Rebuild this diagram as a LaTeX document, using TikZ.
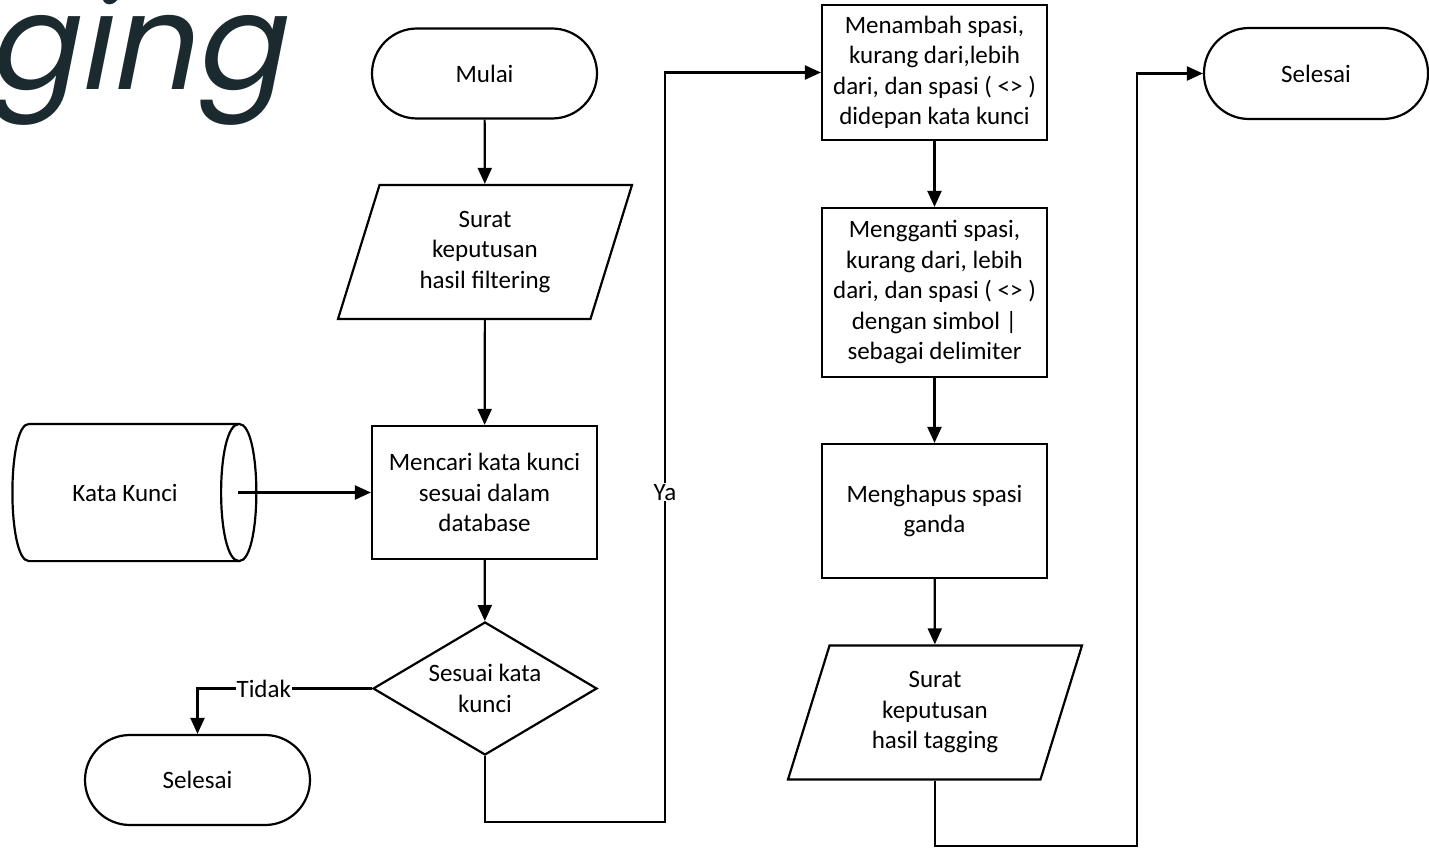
\documentclass[tikz,border=0pt]{standalone}
\usepackage{fontspec}
\setmainfont{Carlito}
\newfontfamily\gingfont[FakeSlant=0.2]{Poppins}
\usepackage{xcolor}
\usepackage{tikz}
\usetikzlibrary{positioning, shapes.geometric, arrows.meta, calc}
\definecolor{gingcolor}{HTML}{1B2A2F}

\begin{document}
\begin{tikzpicture}[x=1pt, y=-1pt, line width=2.2pt, font=\fontsize{25}{30.5}\selectfont]
% style: Terminal_style
\tikzstyle{Terminal_style}=[draw,rectangle,rounded corners=45pt,minimum width=225pt,minimum height=90pt,align=center]
% style: Process_style
\tikzstyle{Process_style}=[draw,rectangle,minimum width=225pt,align=center,inner sep=0pt]
% style: Data_style
\tikzstyle{Data_style}=[draw,trapezium,trapezium left angle=63,trapezium right angle=117,trapezium stretches body,minimum width=294pt,minimum height=134pt,inner sep=0pt,align=center]
% style: Decision_style
\tikzstyle{Decision_style}=[draw,diamond,aspect=1.69,minimum width=224pt,minimum height=133pt,inner sep=0pt,align=center]
% style: defaultEdge
\tikzstyle{defaultEdge}=[-{Triangle[length=16pt,width=14pt]}]
% style: defaultLabel
\tikzstyle{defaultLabel}=[fill=white,inner sep=1pt]

\clip (0, 0) rectangle (1429, 848);

% node: ging
\node[font=\gingfont\fontsize{133}{133}\selectfont, text=gingcolor, anchor=base west, inner sep=0pt] (ging) at (-15, 90) {ging};

% node group: filtering_group
% node: mulai
\node[Terminal_style] (mulai) at (484.5, 73.5) {Mulai};
% node: filtering
\node[Data_style] (filtering) at (485, 252) {Surat\\keputusan\\hasil filtering};
% node: cari
\node[Process_style, minimum height=133pt] (cari) at (484.5, 492.5) {Mencari kata kunci\\sesuai dalam\\database};
% node: kunci
\node[minimum width=224pt, minimum height=135pt, inner sep=0pt] (kunci) at (125, 492.5) {Kata Kunci};
\draw ([xshift=17pt]kunci.north west) -- ([xshift=1pt]kunci.north east)
  .. controls ([xshift=24pt]kunci.north east) and ([xshift=24pt]kunci.south east) .. ([xshift=1pt]kunci.south east)
  .. controls ([xshift=-23pt]kunci.south east) and ([xshift=-23pt]kunci.north east) .. ([xshift=1pt]kunci.north east);
\draw ([xshift=1pt]kunci.south east) -- ([xshift=17pt]kunci.south west)
  .. controls ([xshift=-5pt]kunci.south west) and ([xshift=-5pt]kunci.north west) .. ([xshift=17pt]kunci.north west);
% node: sesuai
\node[Decision_style] (sesuai) at (485, 688.5) {Sesuai kata\\kunci};
% node: selesai_1
\node[Terminal_style] (selesai_1) at (197.5, 780) {Selesai};
% end of node group: filtering_group

% node group: tagging_group
% node: tambah
\node[Process_style, minimum height=135pt] (tambah) at (934.5, 72.5) {Menambah spasi,\\kurang dari,lebih\\dari, dan spasi ( <> )\\didepan kata kunci};
% node: ganti
\node[Process_style, minimum height=169pt] (ganti) at (934.5, 292.5) {Mengganti spasi,\\kurang dari, lebih\\dari, dan spasi ( <> )\\dengan simbol |\\sebagai delimiter};
% node: hapus
\node[Process_style, minimum height=134pt] (hapus) at (934.5, 511) {Menghapus spasi\\ganda};
% node: tagging
\node[Data_style] (tagging) at (935, 712.5) {Surat\\keputusan\\hasil tagging};
% node: selesai_2
\node[Terminal_style, minimum width=224pt, minimum height=91pt] (selesai_2) at (1316, 73.5) {Selesai};
% end of node group: tagging_group

\coordinate (ya_bottom) at (665, 822);
\coordinate (tag_bottom) at (1137, 846);

% edge from mulai to filtering
\draw[defaultEdge] (mulai) -- (filtering);
% edge from filtering to cari
\draw[defaultEdge] (filtering) -- (cari);
% edge from kunci to cari
\draw[defaultEdge] (kunci.east) -- (cari.west);
% edge from cari to sesuai
\draw[defaultEdge] (cari) -- (sesuai);
% edge from sesuai to selesai_1
\draw[defaultEdge] (sesuai.west) -| node[defaultLabel, pos=0.31] {Tidak} (selesai_1.north);
% edge from sesuai to tambah
\draw[defaultEdge] (sesuai.south) |- (ya_bottom) |- node[defaultLabel, pos=0.22] {Ya} (tambah.west);
% edge from tambah to ganti
\draw[defaultEdge] (tambah) -- (ganti);
% edge from ganti to hapus
\draw[defaultEdge] (ganti) -- (hapus);
% edge from hapus to tagging
\draw[defaultEdge] (hapus) -- (tagging);
% edge from tagging to selesai_2
\draw[defaultEdge] (tagging.south) |- (tag_bottom) |- (selesai_2.west);

\end{tikzpicture}
\end{document}
